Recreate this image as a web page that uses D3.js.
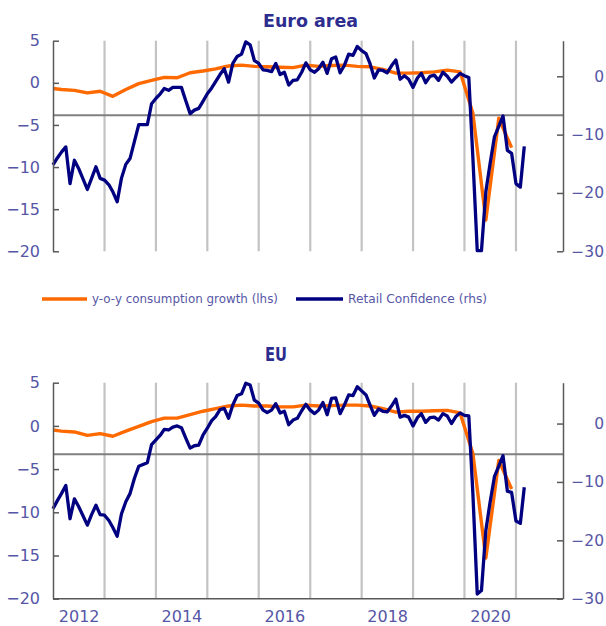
<html>
<head>
    <meta charset="utf-8">
    <title>Consumption and retail confidence</title>
    <style>
        body { margin: 0; background: #fff; }
        .tick text { font-family: "DejaVu Sans", sans-serif; font-size: 16px; fill: #5656a6; }
        .axis path, .axis line { stroke: #595959; stroke-width: 1.5; }
        .title { font-family: "DejaVu Sans", sans-serif; font-weight: bold; fill: #2d2d8f; }
        .legend text { font-family: "DejaVu Sans", sans-serif; font-size: 11.5px; fill: #5656a6; }
    </style>
</head>
<body>
<div id="chart"></div>
<script src="https://cdn.jsdelivr.net/npm/d3@7/dist/d3.min.js"></script>
<script type="text/javascript">
    // Retail confidence (rhs), monthly from Jan 2012 to Mar 2021
    var euroConf = [
        -15.2, -14.0, -13.0, -12.1, -18.4, -14.4, -15.8, -17.6, -19.4, -17.5, -15.5, -17.5,
        -17.8, -18.6, -19.8, -21.5, -17.5, -15.1, -14.1, -11.2, -8.3, -8.3, -8.3, -4.7,
        -3.8, -3.0, -2.1, -2.4, -1.9, -1.9, -1.9, -4.2, -6.4, -5.8, -5.5, -4.3,
        -3.0, -2.0, -0.9, 0.3, 1.3, -1.0, 2.2, 3.4, 3.8, 5.9, 5.4, 2.7,
        2.2, 1.1, 1.0, 0.8, 2.2, 0.3, 0.7, -1.5, -0.7, -0.6, 0.7, 2.3,
        1.1, 0.7, 1.3, 2.4, 0.5, 3.0, 3.3, 0.6, 1.9, 3.8, 3.6, 5.1,
        4.4, 3.9, 2.2, -0.3, 1.1, 1.0, 0.6, 1.8, 2.8, -0.5, 0.1, -0.5,
        -1.9, -0.3, 0.5, -1.1, 0.0, 0.2, -0.7, 0.7, 0.0, -1.0, -0.2, 0.5,
        0.1, -0.2, -14.0, -29.9, -29.9, -19.8, -15.0, -10.4, -8.6, -6.8, -12.7, -13.2,
        -18.4, -19.0, -12.0
    ];
    var euConf = [
        -14.6, -13.2, -12.0, -10.6, -16.3, -12.9, -14.2, -15.8, -17.4, -15.6, -14.0, -15.6,
        -15.7, -16.6, -17.8, -19.3, -15.5, -13.4, -12.0, -9.4, -7.3, -7.0, -6.7, -3.6,
        -2.8, -2.0, -1.0, -1.1, -0.6, -0.4, -0.7, -2.5, -4.2, -3.8, -3.7, -2.0,
        -0.8, 0.5, 1.2, 2.4, 2.6, 0.9, 3.2, 4.8, 5.1, 6.9, 6.6, 4.0,
        3.5, 2.3, 1.9, 2.3, 3.4, 1.8, 2.1, -0.2, 0.6, 0.9, 2.2, 3.3,
        2.3, 1.7, 2.3, 3.6, 1.5, 4.3, 4.4, 1.7, 3.2, 4.9, 4.8, 6.3,
        5.6, 4.9, 3.2, 1.4, 2.5, 2.1, 2.0, 3.0, 4.2, 1.1, 1.4, 1.1,
        -0.4, 1.0, 1.7, 0.2, 1.0, 1.1, 0.6, 1.7, 1.3, 0.0, 1.2, 1.8,
        1.4, 1.3, -12.0, -29.2, -28.6, -18.3, -13.5, -9.1, -7.3, -5.5, -11.6, -11.8,
        -16.7, -17.1, -10.9
    ];

    // y-o-y consumption growth (lhs), quarterly from Q4 2011 to Q4 2020
    var euroCons = [
        -0.6, -0.8, -0.9, -1.2, -1.0, -1.6, -0.8, -0.1, 0.3, 0.65, 0.6, 1.2,
        1.4, 1.65, 2.0, 2.1, 1.95, 1.9, 1.85, 1.8, 2.1, 1.95, 2.05, 2.1,
        1.95, 1.9, 1.6, 1.15, 1.15, 1.2, 1.3, 1.5, 1.3, -3.6, -16.3, -4.2,
        -7.7
    ];
    var euCons = [
        -0.4, -0.6, -0.7, -1.1, -0.9, -1.2, -0.6, -0.05, 0.5, 0.9, 0.9, 1.3,
        1.7, 2.0, 2.3, 2.4, 2.3, 2.3, 2.2, 2.2, 2.4, 2.3, 2.35, 2.4,
        2.4, 2.3, 2.0, 1.6, 1.7, 1.7, 1.75, 1.8, 1.5, -3.2, -15.3, -4.0,
        -7.3
    ];

    // horizontal reference line, in rhs units
    var euroRef = -6.7;
    var euRef = -5.25;

    var lhsTicks = [5, 0, -5, -10, -15, -20];
    var rhsTicks = [0, -10, -20, -30];
    var euroRhsDomain = [-30, 6.1];
    var euRhsDomain = [-30, 7.0];
    var gridYears = [2013, 2014, 2015, 2016, 2017, 2018, 2019, 2020, 2021];
    var labelYears = [2012, 2014, 2016, 2018, 2020];

    var width = 606, height = 626;
    var left = 53, right = 563;

    var svg = d3.select('#chart').append('svg')
        .attr('width', width)
        .attr('height', height);

    svg.append('defs').append('clipPath')
        .attr('id', 'plotclip')
        .append('rect')
        .attr('x', left).attr('y', 0)
        .attr('width', right - left).attr('height', height);

    var x = d3.scaleTime()
        .domain([new Date(2012, 0, 1), new Date(2021, 11, 1)])
        .range([left, right]);

    function monthly(values, start) {
        return values.map(function (v, i) {
            return {date: d3.timeMonth.offset(start, i), value: v};
        });
    }

    function quarterly(values, start) {
        return values.map(function (v, i) {
            return {date: d3.timeMonth.offset(start, 3 * i), value: v};
        });
    }

    function drawPanel(p) {
        var yL = d3.scaleLinear().domain([-20, 5]).range([p.bottom, p.top]);
        var yR = d3.scaleLinear().domain(p.rhsDomain).range([p.bottom, p.top]);

        var g = svg.append('g');

        // yearly gridlines
        g.selectAll('.grid')
            .data(gridYears).enter()
            .append('line')
            .attr('class', 'grid')
            .attr('x1', function (d) { return x(new Date(d, 0, 1)); })
            .attr('x2', function (d) { return x(new Date(d, 0, 1)); })
            .attr('y1', p.top)
            .attr('y2', p.bottom)
            .attr('stroke', '#c3c3c3')
            .attr('stroke-width', 2.2);

        g.append('line')
            .attr('x1', left).attr('x2', right)
            .attr('y1', yR(p.ref)).attr('y2', yR(p.ref))
            .attr('stroke', '#808080')
            .attr('stroke-width', 2);

        var lineL = d3.line()
            .x(function (d) { return x(d.date); })
            .y(function (d) { return yL(d.value); });
        var lineR = d3.line()
            .x(function (d) { return x(d.date); })
            .y(function (d) { return yR(d.value); });

        g.append('path')
            .datum(quarterly(p.cons, new Date(2011, 11, 1)))
            .attr('clip-path', 'url(#plotclip)')
            .attr('fill', 'none')
            .attr('stroke', '#ff6a00')
            .attr('stroke-width', 3.4)
            .attr('stroke-linejoin', 'round')
            .attr('d', lineL);

        g.append('path')
            .datum(monthly(p.conf, new Date(2012, 0, 1)))
            .attr('fill', 'none')
            .attr('stroke', '#000080')
            .attr('stroke-width', 3.3)
            .attr('stroke-linejoin', 'round')
            .attr('d', lineR);

        // left axis, ticks point inward
        g.append('g')
            .attr('class', 'axis')
            .attr('transform', 'translate(' + left + ',0)')
            .call(d3.axisLeft(yL).tickValues(lhsTicks).tickSizeInner(-6).tickSizeOuter(0).tickPadding(13));

        // right axis, labels kept inside the page edge
        var ra = g.append('g')
            .attr('class', 'axis')
            .attr('transform', 'translate(' + right + ',0)')
            .call(d3.axisRight(yR).tickValues(rhsTicks).tickSizeInner(-6).tickSizeOuter(0));
        ra.selectAll('.tick text')
            .attr('x', 41)
            .attr('text-anchor', 'end')
            .style('font-size', '15.5px');

        if (p.xLabels) {
            var xa = g.append('g')
                .attr('class', 'axis')
                .attr('transform', 'translate(0,' + p.bottom + ')')
                .call(d3.axisBottom(x)
                    .tickValues(labelYears.map(function (yr) { return new Date(yr, 6, 1); }))
                    .tickFormat(d3.timeFormat('%Y'))
                    .tickSize(0)
                    .tickPadding(12));
            xa.select('.domain').attr('d', 'M' + left + ',0H' + right);
        }

        svg.append('text')
            .attr('class', 'title')
            .attr('x', p.titleX)
            .attr('y', p.titleY)
            .attr('font-size', p.titleSize)
            .attr('textLength', p.titleLen)
            .attr('lengthAdjust', 'spacingAndGlyphs')
            .text(p.title);
    }

    drawPanel({
        title: 'Euro area', titleX: 263, titleY: 27, titleSize: 18, titleLen: 95,
        top: 40.7, bottom: 251.3,
        conf: euroConf, cons: euroCons, ref: euroRef, rhsDomain: euroRhsDomain,
        xLabels: false
    });

    drawPanel({
        title: 'EU', titleX: 265, titleY: 360.7, titleSize: 19, titleLen: 22,
        top: 382.7, bottom: 598.7,
        conf: euConf, cons: euCons, ref: euRef, rhsDomain: euRhsDomain,
        xLabels: true
    });

    // legend
    var legend = svg.append('g').attr('class', 'legend');
    var items = [
        {label: 'y-o-y consumption growth (lhs)', color: '#ff6a00', x0: 42, x1: 87, tx: 92, len: 186},
        {label: 'Retail Confidence (rhs)', color: '#000080', x0: 296, x1: 343, tx: 348, len: 139}
    ];
    items.forEach(function (it) {
        legend.append('line')
            .attr('x1', it.x0).attr('x2', it.x1)
            .attr('y1', 299).attr('y2', 299)
            .attr('stroke', it.color)
            .attr('stroke-width', 3.5);
        legend.append('text')
            .attr('x', it.tx)
            .attr('y', 303)
            .attr('textLength', it.len)
            .attr('lengthAdjust', 'spacingAndGlyphs')
            .text(it.label);
    });
</script>
</body>
</html>
